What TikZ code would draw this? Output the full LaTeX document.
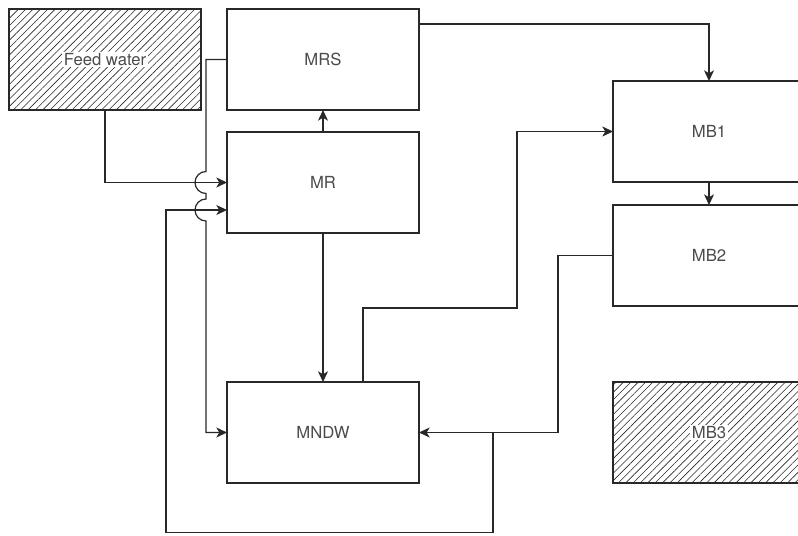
\documentclass[tikz,border=0pt]{standalone}
\usepackage{fontspec}
\setmainfont{TeX Gyre Heros}
\usepackage{tikz}
\usetikzlibrary{arrows.meta, positioning, calc, patterns.meta}
\definecolor{linegray}{RGB}{40, 40, 40}
\definecolor{textgray}{RGB}{75, 75, 75}

\begin{document}
\begin{tikzpicture}[
    x=0.75pt, y=-0.75pt,
    box/.style={rectangle, draw=linegray, line width=0.9pt, minimum width=144pt, minimum height=75.75pt, outer sep=0pt, inner sep=0pt, fill=white, font=\fontsize{12.5}{15}\selectfont, text=textgray},
    hatchbox/.style={box, pattern={Lines[angle=45, distance=3.9pt, line width=0.45pt]}, pattern color=linegray},
    tagbg/.style={fill=white, inner sep=1.2pt, font=\fontsize{12.5}{15}\selectfont, text=textgray},
    flow/.style={draw=linegray, line width=0.9pt, -{Stealth[length=8pt, width=7.5pt, inset=2.2pt]}}
]
\useasboundingbox (0,0) rectangle (798,535);
\clip (0,0) rectangle (798,535);

\node[hatchbox, label={[tagbg]center:Feed water}] (feed) at (105,59.5) {};
\node[box, right=19.5pt of feed] (mrs) {MRS};
\node[box, below=16.5pt of mrs] (mr) {MR};
\node[box, below=111.75pt of mr] (mndw) {MNDW};

\node[box] (mb1) at (709,131.5) {MB1};
\node[box, below=17.25pt of mb1] (mb2) {MB2};
\node[hatchbox, below=57pt of mb2, label={[tagbg]center:MB3}] (mb3) {};

\draw[flow] (feed.south) |- (mr.west);
\draw[flow] (mr.north) -- (mrs.south);
\draw[flow] (mr.south) -- (mndw.north);
\draw[flow] ($(mrs.north east)+(0,15)$) -| (mb1.north);
\draw[flow] (mb1.south) -- (mb2.north);

% MRS -> MNDW, hopping over the two inputs of MR
\draw[flow] (mrs.west) -| ($(mr.west)+(-21,-11)$)
    arc[start angle=90, end angle=270, radius=8.25pt]
    -- ($(mr.west)+(-21,16.5)$)
    arc[start angle=90, end angle=270, radius=8.25pt]
    |- (mndw.west);

\draw[flow] ($(mndw.north)+(40,0)$) |- ($(mb1.west)+(-96,176.5)$) |- (mb1.west);
\draw[flow] (mb2.west) -| ($(mb2.west |- mndw.east)+(-55,0)$) -- (mndw.east);

% branch back to MR
\coordinate (split) at ($(mndw.east)+(74,0)$);
\draw[flow] (split) -- ++(0,100) -| ($(mr.west)+(-61,27.5)$) -- ($(mr.west)+(0,27.5)$);

\end{tikzpicture}
\end{document}
